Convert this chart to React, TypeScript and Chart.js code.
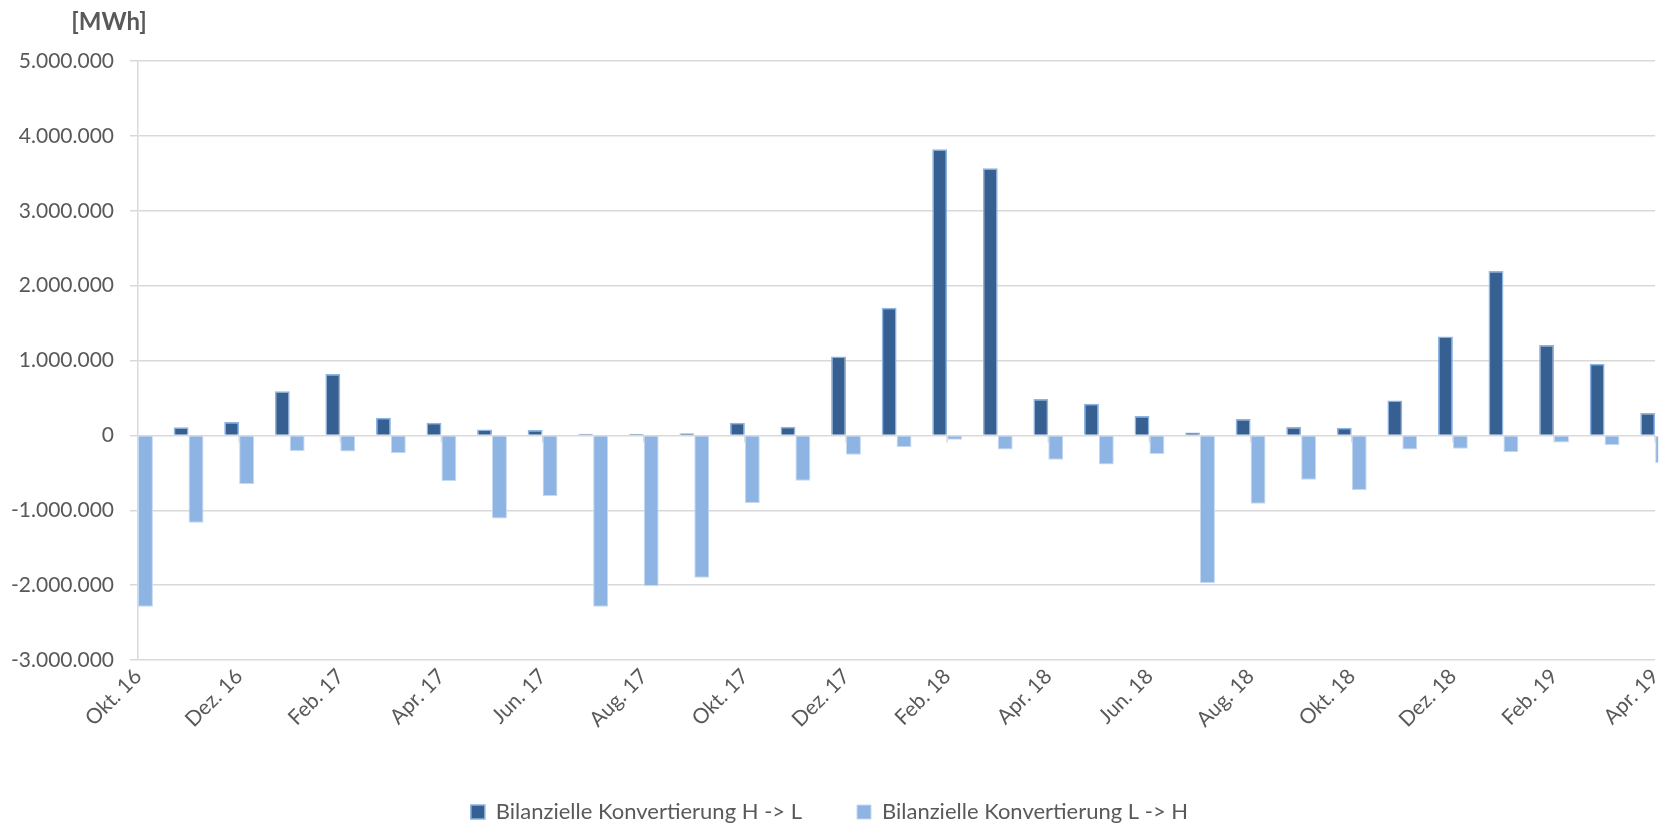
import React, { useEffect, useRef } from "react";
import { Chart, registerables } from "chart.js";

Chart.register(...registerables);

const MONTHS = [
  "Okt. 16", "Nov. 16", "Dez. 16", "Jan. 17", "Feb. 17", "Mrz. 17", "Apr. 17", "Mai. 17",
  "Jun. 17", "Jul. 17", "Aug. 17", "Sep. 17", "Okt. 17", "Nov. 17", "Dez. 17", "Jan. 18",
  "Feb. 18", "Mrz. 18", "Apr. 18", "Mai. 18", "Jun. 18", "Jul. 18", "Aug. 18", "Sep. 18",
  "Okt. 18", "Nov. 18", "Dez. 18", "Jan. 19", "Feb. 19", "Mrz. 19", "Apr. 19",
];

const H_TO_L = [
  20000, 110000, 178000, 588000, 820000, 236000, 169000, 80000,
  71000, 22000, 22000, 27000, 169000, 116000, 1055000, 1706000,
  3820000, 3567000, 486000, 423000, 258000, 40000, 218000, 111000,
  102000, 465000, 1320000, 2195000, 1208000, 958000, 298000,
];

const L_TO_H = [
  -2290000, -1167000, -650000, -210000, -214000, -240000, -610000, -1109000,
  -810000, -2290000, -2013000, -1900000, -904000, -606000, -258000, -156000,
  -58000, -190000, -325000, -390000, -250000, -1970000, -913000, -592000,
  -730000, -190000, -178000, -227000, -94000, -129000, -370000,
];

const SERIES_NAMES = ["Bilanzielle Konvertierung H -> L", "Bilanzielle Konvertierung L -> H"];
const UNIT_LABEL = "[MWh]";
const Y_MIN = -3000000;
const Y_MAX = 5000000;
const Y_STEP = 1000000;

const FONT = "Lato";
const TEXT = "#595959";
const GRID = "#D9D9D9";
const LEGEND_GAP = 55;

function fmt(v: number): string {
  const s = Math.abs(Math.round(v)).toString().replace(/\B(?=(\d{3})+(?!\d))/g, ".");
  return (v < 0 ? "-" : "") + s;
}

const extras = {
  id: "extras",
  beforeUpdate(chart: any) {
    const lg = chart.legend;
    if (lg && !lg._patchedFit) {
      const orig = lg.fit.bind(lg);
      lg.fit = function () {
        orig();
        this.height = 81;
      };
      lg._patchedFit = true;
    }
  },
  afterDraw(chart: any) {
    const ctx = chart.ctx;
    ctx.save();
    ctx.fillStyle = TEXT;
    ctx.font = `bold 24px ${FONT}`;
    ctx.textAlign = "center";
    ctx.textBaseline = "middle";
    ctx.fillText(UNIT_LABEL, 109, 22);
    ctx.restore();
  },
  beforeDatasetsDraw(chart: any) {
    const ctx = chart.ctx;
    const x = chart.scales.x;
    const y = chart.scales.y;
    const y0 = y.getPixelForValue(0);
    ctx.save();
    ctx.strokeStyle = GRID;
    ctx.lineWidth = 1.5;
    for (let i = 0; i < MONTHS.length; i += 2) {
      const px = x.getPixelForValue(i);
      ctx.beginPath();
      ctx.moveTo(px, y0);
      ctx.lineTo(px, y0 + 7);
      ctx.stroke();
    }
    ctx.restore();
  },
};

export default function App() {
  const ref = useRef<HTMLCanvasElement | null>(null);
  useEffect(() => {
    document.body.style.margin = "0";
    if (!ref.current) return;
    const chart = new Chart(ref.current, {
      type: "bar",
      data: {
        labels: MONTHS,
        datasets: [
          {
            label: SERIES_NAMES[0],
            data: H_TO_L,
            backgroundColor: "#366092",
            borderColor: "#8DB3E2",
            borderWidth: 1.5,
            clip: { left: 0, right: 3, top: false, bottom: false } as any,
          },
          {
            label: SERIES_NAMES[1],
            data: L_TO_H,
            backgroundColor: "#8DB4E2",
            borderColor: "#C5D9F1",
            borderWidth: 1,
            clip: { left: 0, right: 3, top: false, bottom: false } as any,
          },
        ],
      },
      options: {
        responsive: false,
        animation: false,
        layout: { padding: { top: 61, right: 18, left: 0, bottom: 0 } },
        plugins: {
          legend: {
            position: "bottom",
            labels: {
              font: { family: FONT, size: 22 },
              color: TEXT,
              boxWidth: 14,
              boxHeight: 14,
              padding: LEGEND_GAP,
            },
          },
          tooltip: { enabled: false },
          title: { display: false },
        },
        scales: {
          x: {
            type: "category",
            offset: false,
            grid: { display: false, drawTicks: false },
            border: { display: false },
            ticks: {
              autoSkip: false,
              minRotation: 45,
              maxRotation: 45,
              padding: 4,
              color: TEXT,
              font: { family: FONT, size: 21 },
              callback: (_v: any, i: number) => (i % 2 === 0 ? MONTHS[i] : ""),
            },
            afterFit: (s: any) => {
              s.height = 86;
            },
          },
          y: {
            min: Y_MIN,
            max: Y_MAX,
            ticks: {
              stepSize: Y_STEP,
              padding: 16,
              color: TEXT,
              font: { family: FONT, size: 21 },
              callback: (v: any) => fmt(Number(v)),
            },
            grid: { color: GRID, lineWidth: 1.5, tickLength: 8, drawTicks: true },
            border: { display: true, color: GRID, width: 1.5 },
            afterFit: (s: any) => {
              s.width = 138;
            },
          },
        },
        datasets: {
          bar: { categoryPercentage: 0.59, barPercentage: 1.0 },
        },
      } as any,
      plugins: [extras],
    });
    return () => chart.destroy();
  }, []);
  return <canvas ref={ref} width={1677} height={827} style={{ display: "block" }} />;
}
